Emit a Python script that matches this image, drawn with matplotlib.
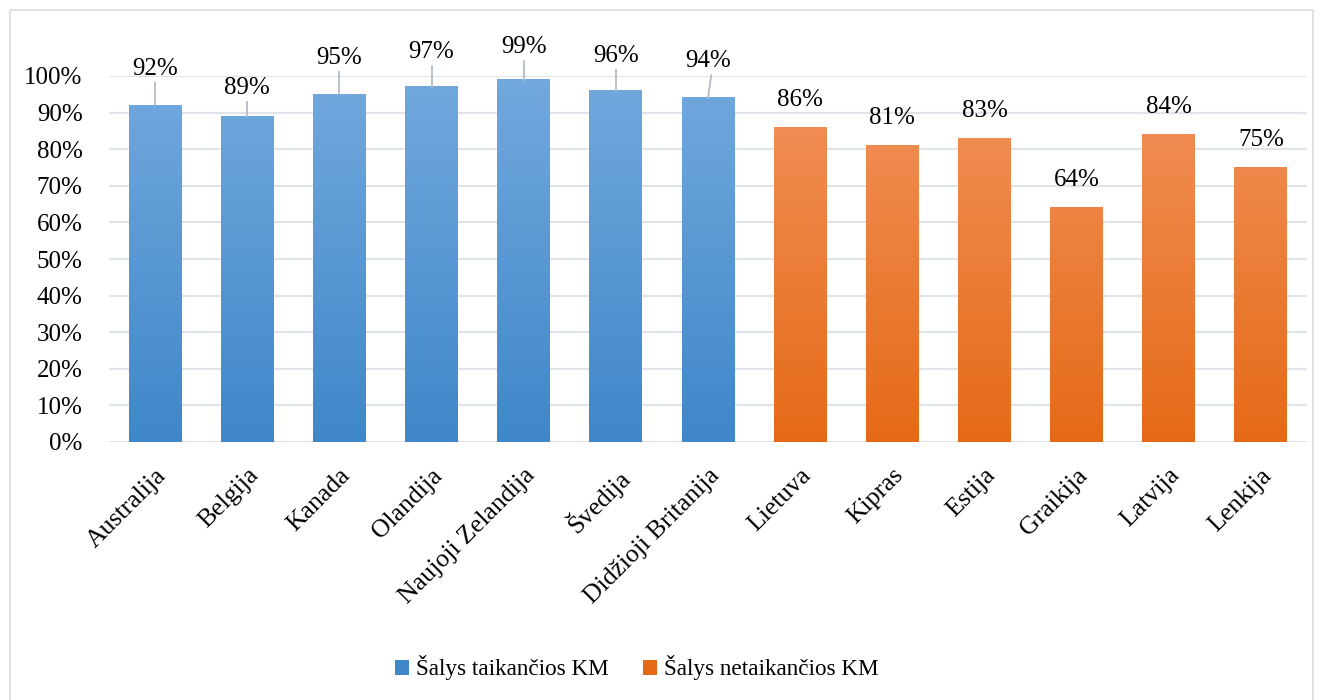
import numpy as np
import matplotlib; matplotlib.use("Agg")
import matplotlib.pyplot as plt
from matplotlib.patches import Rectangle
from matplotlib.colors import LinearSegmentedColormap

plt.rcParams.update({"font.family": ["Liberation Serif", "DejaVu Serif"]})

countries = ["Australija", "Belgija", "Kanada", "Olandija", "Naujoji Zelandija", "Švedija",
             "Didžioji Britanija", "Lietuva", "Kipras", "Estija", "Graikija", "Latvija", "Lenkija"]
values = [92, 89, 95, 97, 99, 96, 94, 86, 81, 83, 64, 84, 75]
group = [0, 0, 0, 0, 0, 0, 0, 1, 1, 1, 1, 1, 1]
legend_names = ["Šalys taikančios KM", "Šalys netaikančios KM"]

# gradient (top colour, bottom colour) per group
GRAD = [("#72a9de", "#3f87c9"), ("#f2925c", "#e56a17")]
# label lift above bar top (in %), blue labels sit higher with leader lines
LIFT = [10, 7.8, 9.8, 9.5, 9.0, 9.5, 10.0, 7.5, 7.5, 7.5, 7.5, 7.5, 7.5]
LEAD_DX = [0, 0, 0, 0, 0, 0, 0.035, 0, 0, 0, 0, 0, 0]

fig = plt.figure(figsize=(13.23, 7.0), dpi=100)
ax = fig.add_axes([109/1323, 1-442/700, (1307-109)/1323, (442-76)/700])
fig.patches.append(Rectangle((10/1323, -0.1), (1313-10)/1323, 1.1 - 10/700, transform=fig.transFigure,
                             fill=False, edgecolor="#d9dde3", lw=1.2))

x = np.arange(len(countries))
w = 0.575
ax.set_xlim(-0.5, len(countries) - 0.5)
ax.set_ylim(0, 100)
for xi, v, g in zip(x, values, group):
    cmap = LinearSegmentedColormap.from_list("g", [GRAD[g][1], GRAD[g][0]])
    grad = np.linspace(0, 1, 256).reshape(-1, 1)
    ax.imshow(grad, extent=(xi - w/2, xi + w/2, 0, v), origin="lower", cmap=cmap,
              aspect="auto", zorder=3, interpolation="bicubic", vmin=0, vmax=1 / (v / 100))
for xi, v, g, lift, dx in zip(x, values, group, LIFT, LEAD_DX):
    ly = v + lift
    ax.text(xi, ly, f"{v}%", ha="center", va="center", fontsize=18, color="black", zorder=5)
    if g == 0:
        ax.plot([xi + dx, xi], [ly - 3.8, v], color="#b4bcc8", lw=1.3, zorder=4, clip_on=False)

ax.set_yticks(np.arange(0, 101, 10))
ax.set_yticklabels([f"{t}%" for t in range(0, 101, 10)], fontsize=18)
ax.set_xticks(x)
ax.set_xticklabels(countries, rotation=45, ha="right", rotation_mode="anchor", fontsize=18.5)
ax.tick_params(length=0)
ax.tick_params(axis="y", pad=19)
ax.tick_params(axis="x", pad=16)
ax.grid(axis="y", color="#dfe3ea", lw=1.5, zorder=0)
ax.set_axisbelow(True)
for s in ax.spines.values():
    s.set_visible(False)

handles = [Rectangle((0, 0), 1, 1, facecolor=GRAD[i][1], edgecolor="none") for i in range(2)]
fig.legend(handles, legend_names, loc="center", bbox_to_anchor=(637/1323, 1 - 668/700), ncol=2,
           frameon=False, fontsize=16.7, handlelength=0.6, handleheight=0.6, handletextpad=0.3,
           columnspacing=1.5)

fig.savefig("out.png", dpi=100, facecolor="white")
